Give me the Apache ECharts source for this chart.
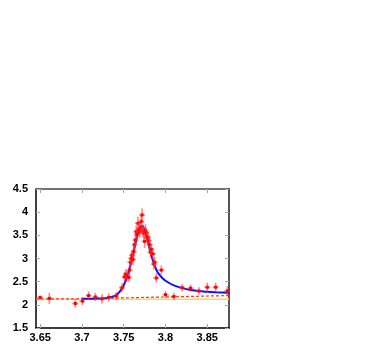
<!DOCTYPE html>
<html><head><meta charset="utf-8">
<script src="https://cdn.jsdelivr.net/npm/echarts@6/dist/echarts.min.js"></script>
<style>html,body{margin:0;padding:0;background:#fff}#c{width:382px;height:354px}</style>
</head><body><div id="c"></div>
<script>
// data points: x, y, vertical error
const ptX = [3.650,3.661,3.692,3.7005,3.708,3.716,3.724,3.732,3.741,3.748,3.751,3.7525,3.754,3.756,3.757,3.758,3.759,3.760,3.761,3.762,3.763,3.764,3.765,3.766,3.767,3.768,3.769,3.770,3.771,3.772,3.773,3.774,3.775,3.776,3.777,3.778,3.779,3.780,3.781,3.782,3.783,3.785,3.786,3.787,3.789,3.795,3.800,3.810,3.820,3.830,3.840,3.850,3.860,3.874];
const ptY = [2.16,2.14,2.03,2.08,2.20,2.17,2.13,2.16,2.19,2.37,2.60,2.66,2.62,2.59,2.75,2.92,3.00,3.07,2.98,3.15,3.30,3.40,3.58,3.52,3.76,3.62,3.58,3.66,3.80,3.94,3.60,3.55,3.37,3.60,3.55,3.47,3.45,3.38,3.30,3.14,3.20,3.10,2.88,2.92,2.58,2.75,2.22,2.18,2.37,2.36,2.30,2.38,2.38,2.30];
const ptErr = [0.04,0.12,0.09,0.09,0.09,0.09,0.10,0.09,0.09,0.10,0.11,0.11,0.12,0.10,0.11,0.12,0.12,0.12,0.12,0.12,0.12,0.14,0.14,0.14,0.14,0.14,0.14,0.14,0.14,0.14,0.14,0.14,0.14,0.14,0.12,0.12,0.12,0.12,0.12,0.12,0.12,0.12,0.12,0.12,0.10,0.10,0.08,0.08,0.08,0.08,0.08,0.10,0.10,0.10];
// fit curve (blue)
const fitX = [3.700,3.720,3.730,3.735,3.740,3.745,3.750,3.755,3.760,3.765,3.768,3.771,3.7735,3.776,3.780,3.785,3.790,3.795,3.800,3.810,3.820,3.830,3.840,3.850,3.860,3.876];
const fitY = [2.13,2.135,2.15,2.17,2.20,2.28,2.42,2.66,3.00,3.40,3.60,3.70,3.68,3.55,3.28,2.95,2.72,2.60,2.52,2.42,2.36,2.32,2.30,2.28,2.27,2.26];
// background (red dashed)
const bgX = [3.645,3.700,3.876];
const bgY = [2.125,2.13,2.20];
// continuum (yellow)
const flatX = [3.645,3.876];
const flatY = [2.12,2.12];
// ticks
const xTicks = [3.65,3.70,3.75,3.80,3.85];
const xTickLabels = ['3.65','3.7','3.75','3.8','3.85'];

const pts = ptX.map((x,i)=>[x,ptY[i],ptErr[i]]);
const zip = (a,b)=>a.map((v,i)=>[v,b[i]]);

const font = {fontFamily:'Liberation Sans, Arial, sans-serif', fontWeight:'bold', fontSize:11, color:'#000'};
const chart = echarts.init(document.getElementById('c'));
const xBase = {type:'value', min:3.645, max:3.876, splitLine:{show:false}};
const yBase = {type:'value', min:1.5, max:4.5, interval:0.5, splitLine:{show:false}};
chart.setOption({
  animation:false,
  grid:{left:36, right:153, top:189, bottom:26, containLabel:false},
  xAxis:[
    Object.assign({}, xBase, {position:'bottom',
      axisLine:{lineStyle:{color:'#000', width:1.5}},
      axisTick:{inside:true, length:4, customValues:xTicks, lineStyle:{color:'#aaa'}},
      axisLabel:Object.assign({customValues:xTicks, margin:4, formatter:(v)=>xTickLabels[xTicks.findIndex(t=>Math.abs(t-v)<1e-6)]}, font)}),
    Object.assign({}, xBase, {position:'top',
      axisLine:{lineStyle:{color:'#444', width:1.5}},
      axisTick:{inside:true, length:4, customValues:xTicks, lineStyle:{color:'#aaa'}},
      axisLabel:{show:false}})
  ],
  yAxis:[
    Object.assign({}, yBase, {position:'left',
      axisLine:{show:true, lineStyle:{color:'#000', width:1.5}},
      axisTick:{show:true, inside:true, length:4, lineStyle:{color:'#aaa'}},
      axisLabel:Object.assign({margin:8}, font)}),
    Object.assign({}, yBase, {position:'right',
      axisLine:{show:true, lineStyle:{color:'#555', width:2}},
      axisTick:{show:true, inside:true, length:4, lineStyle:{color:'#aaa'}},
      axisLabel:{show:false}})
  ],
  series:[
    {type:'line', data:zip(flatX,flatY), showSymbol:false, lineStyle:{color:'#f0e050', width:1.5}, z:1},
    {type:'line', data:zip(bgX,bgY), showSymbol:false, lineStyle:{color:'#ff3030', width:1.2, type:[3,2]}, z:2},
    {type:'line', data:zip(fitX,fitY), smooth:0.3, showSymbol:false, lineStyle:{color:'#1010ff', width:2}, z:3},
    {type:'custom', data:pts, z:4, clip:true,
      renderItem:function(params, api){
        const x=api.value(0), y=api.value(1), e=api.value(2);
        const c=api.coord([x,y]), t=api.coord([x,y+e]), b=api.coord([x,y-e]);
        const hw=3;
        const st={stroke:'rgba(255,50,50,0.6)', lineWidth:1.6};
        return {type:'group', children:[
          {type:'line', shape:{x1:c[0],y1:t[1],x2:c[0],y2:b[1]}, style:st},
          {type:'line', shape:{x1:c[0]-hw,y1:c[1],x2:c[0]+hw,y2:c[1]}, style:st},
          {type:'rect', shape:{x:c[0]-1.5,y:c[1]-1.5,width:3,height:3}, style:{fill:'#ff0000'}}
        ]};
      }}
  ]
});
</script></body></html>
